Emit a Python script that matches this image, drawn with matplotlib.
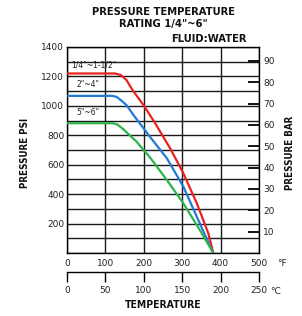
import matplotlib.pyplot as plt
from matplotlib.ticker import MultipleLocator

# (temperature in °F, pressure in psi)
red_t = [0, 125, 140, 155, 170, 199, 230, 270, 303, 338, 368, 381]
red_p = [1220, 1220, 1210, 1175, 1110, 1006, 880, 705, 542, 338, 134, 0]
blue_t = [0, 118, 130, 142, 155, 173, 216, 260, 303, 338, 377, 381]
blue_p = [1068, 1068, 1060, 1035, 1005, 938, 790, 644, 451, 247, 20, 0]
green_t = [0, 120, 132, 145, 160, 180, 203, 216, 260, 303, 346, 381]
green_p = [882, 882, 872, 845, 808, 760, 690, 650, 496, 338, 156, 0]
series_names = ['1/4"~1-1/2"', '2"~4"', '5"~6"']
f_ticks = [0, 100, 200, 300, 400, 500]
c_ticks = [0, 50, 100, 150, 200, 250]
psi_ticks = [200, 400, 600, 800, 1000, 1200, 1400]
bar_ticks = [10, 20, 30, 40, 50, 60, 70, 80, 90]

PSI_PER_BAR = 14.5038
txt = '#222222'
bold = dict(family='DejaVu Sans', fontstretch='condensed', fontweight='bold', color='#111111')

fig = plt.figure(figsize=(3.02, 3.16), dpi=100)
ax = fig.add_axes([67/302, 63/316, 192/302, 206/316])

line_kw = dict(lw=1.6, zorder=3, solid_joinstyle='round', solid_capstyle='round')
ax.plot(red_t, red_p, color='#e8231f', **line_kw)
ax.plot(blue_t, blue_p, color='#2479d4', **line_kw)
ax.plot(green_t, green_p, color='#2cb44a', **line_kw)

ax.set_xlim(0, 500)
ax.set_ylim(0, 1400)
ax.set_xticks(f_ticks)
ax.set_yticks(psi_ticks)
ax.yaxis.set_minor_locator(MultipleLocator(100))
ax.grid(True, which='both', color='#1a1a1a', lw=1.0, zorder=1)
ax.tick_params(which='both', length=0, labelsize=6.5, labelcolor=txt)
ax.tick_params(axis='x', pad=4)
ax.tick_params(axis='y', pad=2)
for s in ax.spines.values():
    s.set_linewidth(1.0)

ax.text(10, 1262, series_names[0], fontsize=5.5, color=txt, zorder=4)
ax.text(25, 1125, series_names[1], fontsize=5.5, color=txt, zorder=4)
ax.text(25, 935, series_names[2], fontsize=5.5, color=txt, zorder=4)

# bar scale on the right
sy = ax.secondary_yaxis('right', functions=(lambda p: p / PSI_PER_BAR, lambda b: b * PSI_PER_BAR))
sy.set_yticks(bar_ticks)
sy.tick_params(direction='in', length=8, width=1.3, labelsize=6.5, labelcolor=txt, pad=3)
sy.spines['right'].set_visible(False)

# celsius scale below
sx = ax.secondary_xaxis(-0.092, functions=(lambda f: f / 2, lambda c: c * 2))
sx.set_xticks(c_ticks)
sx.tick_params(direction='out', length=7, width=1.0, labelsize=6.5, labelcolor=txt, pad=3)
sx.spines['bottom'].set_linewidth(1.0)

fig.text(277/302, 1 - 264/316, '°F', fontsize=6.5, color=txt, va='center')
fig.text(270/302, 1 - 291/316, '°C', fontsize=6.5, color=txt, va='center')

fig.text(163/302, 1 - 12/316, 'PRESSURE TEMPERATURE', fontsize=8, ha='center', va='center', **bold)
fig.text(163/302, 1 - 24/316, 'RATING 1/4"~6"', fontsize=8, ha='center', va='center', **bold)
fig.text(209/302, 1 - 39/316, 'FLUID:WATER', fontsize=8, ha='center', va='center', **bold)
fig.text(25/302, 1 - 153/316, 'PRESSURE PSI', fontsize=7, rotation=90, ha='center', va='center', **bold)
fig.text(290/302, 1 - 153/316, 'PRESSURE BAR', fontsize=7, rotation=90, ha='center', va='center', **bold)
fig.text(163/302, 1 - 305/316, 'TEMPERATURE', fontsize=7.5, ha='center', va='center', **bold)

fig.savefig('out.png', dpi=100)
